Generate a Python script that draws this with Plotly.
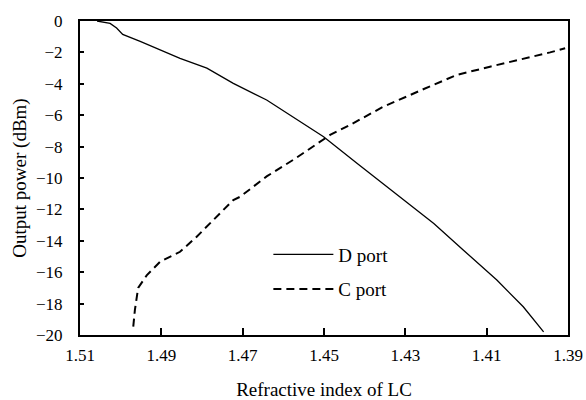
import plotly.graph_objects as go

# D port (solid line)
d_x = [1.5058, 1.5026, 1.5010, 1.4995, 1.4952, 1.4903, 1.4854, 1.4788, 1.4723, 1.4641,
       1.4570, 1.4501, 1.4419, 1.4305, 1.4230, 1.4157, 1.4075, 1.4010, 1.3960]
d_y = [0.0, -0.15, -0.45, -0.85, -1.3, -1.85, -2.38, -3.0, -3.97, -5.03,
       -6.2, -7.37, -9.06, -11.4, -12.9, -14.6, -16.5, -18.2, -19.8]

# C port (dashed line)
c_x = [1.4969, 1.4965, 1.4957, 1.4936, 1.4903, 1.4854, 1.4813, 1.4780, 1.4723,
       1.4706, 1.4641, 1.4570, 1.4534, 1.4485, 1.4436, 1.4354, 1.4256, 1.4174,
       1.4092, 1.4010, 1.3944, 1.3907]
c_y = [-19.47, -18.4, -17.0, -16.2, -15.33, -14.7, -13.74, -12.9, -11.4,
       -11.19, -9.9, -8.75, -8.1, -7.26, -6.62, -5.46, -4.35, -3.44,
       -2.91, -2.42, -2.0, -1.74]

x_ticks = [1.51, 1.49, 1.47, 1.45, 1.43, 1.41, 1.39]
y_ticks = [0, -2, -4, -6, -8, -10, -12, -14, -16, -18, -20]

FONT = "Liberation Serif, Times New Roman, serif"

fig = go.Figure()
fig.add_trace(go.Scatter(x=d_x, y=d_y, mode="lines", name="D port", legendgroup="d",
                         line=dict(color="black", width=1.3)))
fig.add_trace(go.Scatter(x=c_x, y=c_y, mode="lines", name="C port", legendgroup="c",
                         line=dict(color="black", width=2, dash="8px,5px")))

fig.update_layout(
    width=586, height=400,
    margin=dict(l=80, r=18, t=21, b=65, autoexpand=False),
    paper_bgcolor="white", plot_bgcolor="white",
    font=dict(family=FONT, size=17, color="black"),
    showlegend=True,
    legend=dict(x=0.386, y=0.317, xanchor="left", yanchor="top",
                bgcolor="rgba(0,0,0,0)", borderwidth=0,
                font=dict(family=FONT, size=19, color="black"),
                itemwidth=60, tracegroupgap=7),
    xaxis=dict(range=[1.51, 1.39], tickvals=x_ticks,
               ticktext=[f"{v:.2f}" for v in x_ticks],
               showgrid=False, zeroline=False, automargin=False,
               showline=True, linecolor="black", linewidth=2, mirror=True,
               ticks="inside", ticklen=7, tickwidth=2, tickcolor="black",
               ticklabelstandoff=4,
               title=dict(text="Refractive index of LC", standoff=21,
                          font=dict(family=FONT, size=19))),
    yaxis=dict(range=[-20, 0], tickvals=y_ticks,
               showgrid=False, zeroline=False, automargin=False,
               showline=True, linecolor="black", linewidth=2, mirror=True,
               ticks="inside", ticklen=4, tickwidth=2, tickcolor="black",
               ticklabelstandoff=12,
               title=dict(text="Output power (dBm)", standoff=4,
                          font=dict(family=FONT, size=19))),
)

fig.write_html("out.html", config={"displayModeBar": False},
               post_script="document.body.style.margin='0';")
